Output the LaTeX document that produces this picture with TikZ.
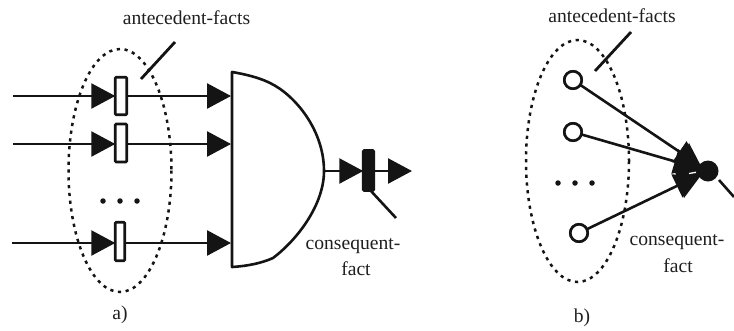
\documentclass[tikz,border=0pt]{standalone}
\usepackage{fontspec}
\setmainfont{Liberation Serif}
\usetikzlibrary{arrows.meta}
\tikzset{
  x=1pt,y=-1pt,
  wire/.style={line width=2.6pt,black!92},
  head/.style={wire,-{Triangle[length=24pt,width=25pt]}},
  factbox/.style={draw=black!92,line width=2.6pt,fill=white,rounded corners=1pt,inner sep=0pt,outer sep=0pt,minimum width=11.5pt,minimum height=37.5pt},
  firedbox/.style={factbox,fill=black!92,minimum width=10.5pt,minimum height=40pt},
  ringnode/.style={circle,draw=black!92,line width=2.6pt,fill=white,inner sep=0pt,outer sep=0pt,minimum size=17.4pt},
  dotnode/.style={circle,fill=black!92,inner sep=0pt,minimum size=5.5pt},
  bigdot/.style={circle,fill=black!92,inner sep=0pt,outer sep=0pt,minimum size=21pt},
  group/.style={draw=black!92,line width=2.5pt,dash pattern=on 3.2pt off 4.6pt},
  lbl/.style={font=\fontsize{19.6}{21}\selectfont,text=black!88,inner sep=0pt},
}
\begin{document}
\begin{tikzpicture}
\useasboundingbox (0,0) rectangle (734,330);
% ---- a) ----
\coordinate (s1) at (13,96);
\coordinate (s2) at (13,144);
\coordinate (s3) at (12,243);
\coordinate (g1) at (231,96);
\coordinate (g2) at (231,144);
\coordinate (g3) at (231,243);
\coordinate (gtop) at (232,72);
\coordinate (gbot) at (232,267);
\coordinate (gout) at (324,171);
\coordinate (aendA) at (141,79);
\coordinate (astartA) at (175,42);
\coordinate (oend) at (412,171);
\coordinate (cA) at (396,218);
\node[factbox] (r1) at (121,96) {};
\node[factbox,minimum height=38pt] (r2) at (121,143) {};
\node[factbox,minimum width=9.5pt,minimum height=38.5pt] (r3) at (120,241.5) {};
\draw[head] (s1) -- (r1.west);
\draw[head] (s2) -- (r2.west |- s2);
\draw[head] (s3) -- (r3.west |- s3);
\draw[head] (r1.east) -- (g1);
\draw[head] (r2.east |- g2) -- (g2);
\draw[head] (r3.east |- g3) -- (g3);
\draw[wire,line join=round] (gtop) .. controls (250,75) and (262,79) .. (270,83)
  .. controls (295,95) and (324,130) .. (gout)
  .. controls (324,205) and (297,240) .. (273,258)
  .. controls (262,263) and (248,266) .. (gbot) -- cycle;
\node[firedbox] (fa) at (368.5,170.5) {};
\draw[head] (gout) -- (fa.west |- gout);
\draw[head] (fa.east |- gout) -- (oend);
\draw[wire] (fa.south) ++(2,0) coordinate (faS) -- (cA);
\draw[wire,line width=2.8pt] (aendA) -- (astartA);
\draw[group] (120,170.5) ellipse [x radius=51.5,y radius=121.5];
\node[dotnode] (d1) at (103,201) {};
\node[dotnode] (d2) at (120,201) {};
\node[dotnode] (d3) at (137,201) {};
\node[lbl] (ta) at (186.5,18) {antecedent-facts};
\node[lbl] (ca1) at (353,246) {consequent-};
\node[lbl] (ca2) at (356,269) {fact};
\node[lbl] (la) at (120,315) {a)};
% ---- b) ----
\node[ringnode] (c1) at (573,80) {};
\node[ringnode] (c2) at (573,132) {};
\node[ringnode] (c3) at (579,233) {};
\node[bigdot] (f) at (708,171) {};
\coordinate (fend) at (734,197);
\coordinate (bendA) at (595,71);
\coordinate (bstartA) at (631,32);
\draw[head] (c1) -- (f);
\draw[head] (c2) -- (f);
\draw[head] (c3) -- (f);
\fill[black!92] (689,143) -- (702,168) -- (702,174) -- (684,198) -- (675,172) -- cycle;
\draw[white,line width=1.3pt] (689,173.5) -- (696,172.3);
\node[ringnode] at (c1) {};
\node[ringnode] at (c2) {};
\node[ringnode] at (c3) {};
\draw[wire] (719,180) -- (fend);
\draw[wire,line width=2.8pt] (bendA) -- (bstartA);
\draw[group] (577.5,161) ellipse [x radius=51.5,y radius=121];
\node[dotnode] (e1) at (558,183) {};
\node[dotnode] (e2) at (575,183) {};
\node[dotnode] (e3) at (592,183) {};
\node[lbl] (tb) at (612,16) {antecedent-facts};
\node[lbl] (cb1) at (677,242) {consequent-};
\node[lbl] (cb2) at (678,266) {fact};
\node[lbl] (lb) at (582,318) {b)};
\end{tikzpicture}
\end{document}
